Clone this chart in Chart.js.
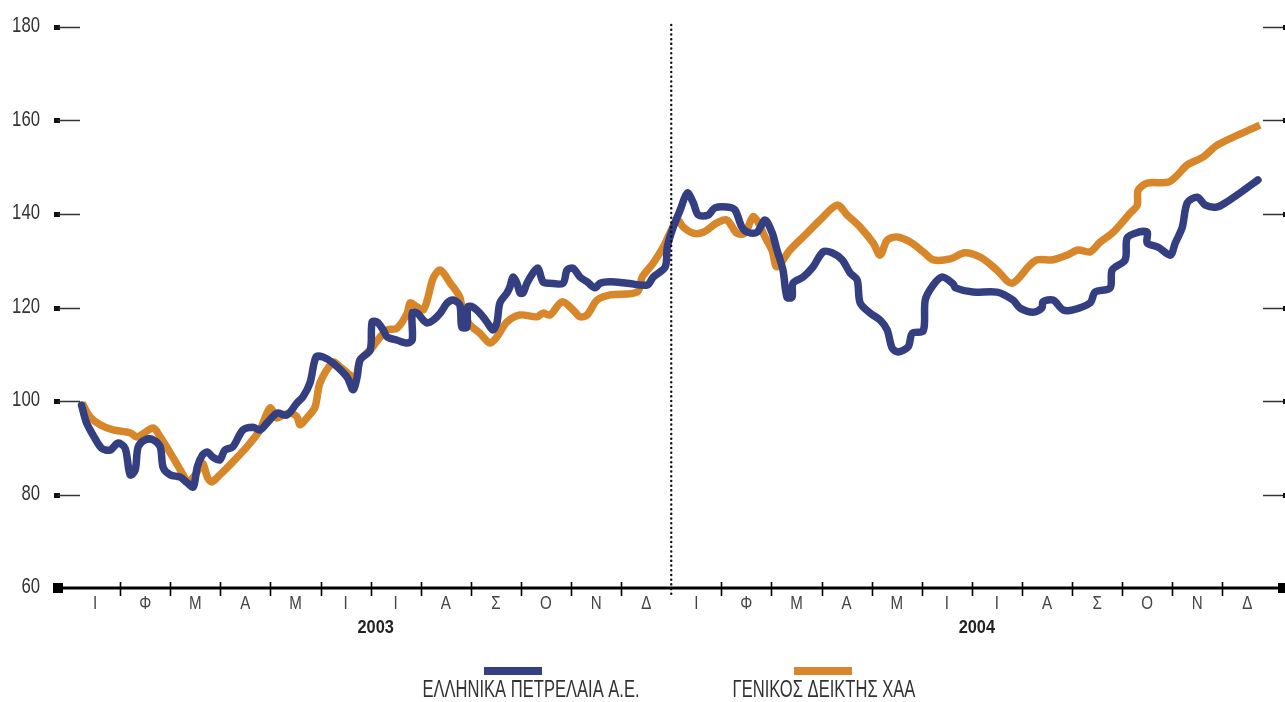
<!DOCTYPE html>
<html>
<head>
<meta charset="utf-8">
<script src="https://cdn.jsdelivr.net/npm/chart.js@4.4.1/dist/chart.umd.min.js"></script>
<style>
  body { margin: 0; background: #fff; }
  #wrap { width: 1285px; height: 702px; }
</style>
</head>
<body>
<div id="wrap"><canvas id="myChart" width="1285" height="702"></canvas></div>
<script>
// months of the two years, x values are month index (0 = start of Jan 2003)
const monthLabels = ['Ι','Φ','Μ','Α','Μ','Ι','Ι','Α','Σ','Ο','Ν','Δ'];
const yearLabels = ['2003', '2004'];
const yTicks = [60, 80, 100, 120, 140, 160, 180];
const seriesNames = ['ΕΛΛΗΝΙΚΑ ΠΕΤΡΕΛΑΙΑ Α.Ε.', 'ΓΕΝΙΚΟΣ ΔΕΙΚΤΗΣ ΧΑΑ'];

// Ελληνικά Πετρέλαια
const elpeX = [0.23,0.33,0.46,0.63,0.80,0.96,1.10,1.20,1.30,1.36,1.50,1.66,1.80,1.86,2.00,2.20,2.34,2.46,2.54,2.64,2.74,2.85,2.99,3.09,3.25,3.45,3.65,3.79,3.95,4.13,4.33,4.53,4.65,4.79,4.91,5.05,5.25,5.53,5.65,5.73,5.79,5.99,6.03,6.13,6.25,6.33,6.53,6.73,6.83,6.83,6.93,7.05,7.13,7.25,7.39,7.53,7.65,7.78,7.82,7.92,7.94,8.04,8.18,8.32,8.44,8.52,8.58,8.72,8.78,8.84,8.92,8.98,9.04,9.12,9.24,9.34,9.44,9.58,9.84,9.92,10.04,10.18,10.32,10.48,10.58,10.78,11.12,11.52,11.64,11.88,11.92,12.04,12.18,12.32,12.44,12.54,12.74,12.87,13.11,13.27,13.41,13.53,13.71,13.87,14.01,14.11,14.23,14.31,14.41,14.43,14.63,14.83,15.03,15.21,15.41,15.57,15.71,15.77,15.97,16.17,16.31,16.41,16.53,16.73,16.81,17.03,17.07,17.23,17.41,17.63,17.67,18.02,18.50,18.82,18.96,19.22,19.40,19.42,19.62,19.82,20.02,20.36,20.46,20.76,20.80,21.06,21.10,21.32,21.50,21.50,21.72,21.96,22.06,22.20,22.30,22.50,22.66,22.89,23.09,23.35,23.71];
const elpeY = [99.1,95.3,92.7,89.9,89.5,91.0,89.9,84.2,85.2,90.2,91.7,91.7,90.2,85.7,84.2,83.7,82.5,81.6,85.9,88.4,89.1,88.0,87.4,89.5,90.2,93.8,94.4,93.8,95.5,97.4,97.0,99.6,100.9,103.9,109.4,109.4,108.1,105.1,102.4,105.1,108.8,110.9,116.9,116.9,115.2,113.7,113.0,112.4,113.0,118.8,118.8,117.3,116.7,117.3,118.8,121.0,121.6,120.5,115.8,115.8,120.1,120.1,118.8,116.9,115.2,116.7,121.0,123.1,124.4,126.5,125.2,123.1,123.1,125.2,127.4,128.4,125.5,125.2,125.2,128.0,128.4,126.5,125.5,124.2,125.2,125.5,125.2,124.8,126.5,128.7,132.9,137.2,140.9,144.5,142.4,139.8,139.8,141.3,141.5,140.9,137.2,136.1,136.1,138.7,136.1,132.3,128.0,122.2,122.2,125.2,126.5,128.7,131.9,131.7,130.2,127.4,125.9,121.0,118.8,117.3,115.2,111.3,110.5,111.6,114.5,115.0,121.6,124.8,126.5,125.0,124.2,123.3,123.3,121.6,119.9,119.0,119.9,121.2,121.6,119.5,119.5,121.0,123.3,124.2,128.0,130.2,134.9,136.1,136.1,133.8,132.9,131.2,133.8,137.2,142.4,143.6,141.9,141.5,142.6,144.5,147.3];

// Γενικός Δείκτης ΧΑΑ
const gdX = [0.24,0.40,0.60,0.86,1.20,1.34,1.66,1.80,2.00,2.26,2.34,2.50,2.64,2.75,2.83,2.99,3.25,3.53,3.79,3.99,4.13,4.25,4.39,4.53,4.59,4.73,4.89,4.99,5.25,5.39,5.69,5.79,5.99,6.19,6.33,6.53,6.73,6.79,6.93,7.05,7.13,7.25,7.39,7.59,7.78,7.84,7.98,8.18,8.38,8.52,8.72,8.98,9.32,9.44,9.58,9.82,10.04,10.18,10.32,10.52,10.78,11.32,11.42,11.64,11.84,12.12,12.24,12.44,12.64,12.91,13.11,13.31,13.47,13.63,13.73,13.87,14.01,14.11,14.37,14.71,14.97,15.31,15.51,15.77,16.03,16.17,16.31,16.51,16.77,17.03,17.23,17.57,17.86,18.20,18.50,18.80,19.16,19.30,19.62,19.90,20.12,20.36,20.56,20.82,21.16,21.30,21.32,21.50,21.92,22.10,22.30,22.62,22.91,23.75];
const gdY = [99.6,96.6,94.9,93.8,93.2,92.3,94.2,92.3,88.9,84.2,82.7,84.2,86.7,83.5,82.7,84.2,87.0,90.2,93.8,98.5,96.4,97.0,97.4,96.6,94.9,96.4,98.7,103.9,108.3,107.3,105.1,108.8,110.9,113.7,115.2,115.6,118.8,121.0,120.1,119.5,121.6,126.3,128.0,125.2,122.2,118.8,116.3,114.5,112.4,113.7,116.9,118.4,118.0,118.8,118.4,121.2,119.5,118.0,118.4,121.6,122.7,123.3,126.5,129.5,132.9,138.7,137.2,135.9,136.1,138.1,138.7,135.9,135.9,139.4,138.3,135.1,132.3,128.7,132.3,135.9,138.7,141.9,139.8,137.2,133.8,131.2,134.4,135.1,134.0,131.9,130.2,130.4,131.7,130.6,128.0,125.2,129.1,130.2,130.2,131.2,132.3,131.9,134.0,136.1,140.2,141.9,145.1,146.6,146.8,148.3,150.5,152.2,154.8,159.0];

const colors = ['#333f80', '#d7872a'];
const FONT = "'Liberation Sans', Arial, sans-serif";

function toPoints(xs, ys) {
  return xs.map((x, i) => ({ x: x, y: ys[i] }));
}

// narrow text: squeeze Liberation Sans horizontally
function narrowText(ctx, text, x, y, font, sx, align) {
  ctx.save();
  ctx.font = font;
  ctx.textAlign = align;
  ctx.textBaseline = 'middle';
  ctx.translate(x, y);
  ctx.scale(sx, 1);
  ctx.fillText(text, 0, 0);
  ctx.restore();
}

const decor = {
  id: 'decor',
  beforeDatasetsDraw(chart) {
    const ctx = chart.ctx, xs = chart.scales.x, ys = chart.scales.y;
    const a = chart.chartArea;
    const yb = ys.getPixelForValue(60);
    ctx.save();
    // y tick marks left and right, labels
    ctx.strokeStyle = '#333';
    ctx.lineWidth = 1.5;
    yTicks.forEach(v => {
      const yv = ys.getPixelForValue(v);
      ctx.fillStyle = '#333';
      narrowText(ctx, String(v), a.left - 18, yv - 1, '22px ' + FONT, 0.76, 'right');
      if (v == 60) return;
      const y = Math.round(yv) + 0.5;
      ctx.fillStyle = '#111';
      ctx.fillRect(a.left - 4, y - 2.5, 6, 5);
      ctx.beginPath();
      ctx.moveTo(a.left, y); ctx.lineTo(a.left + 22, y);
      ctx.moveTo(a.right - 22, y); ctx.lineTo(a.right, y);
      ctx.stroke();
      ctx.fillRect(a.right - 2, y - 2.5, 2, 5);
    });
    // x axis line
    ctx.strokeStyle = '#000';
    ctx.lineWidth = 3;
    ctx.beginPath();
    ctx.moveTo(a.left, yb); ctx.lineTo(a.right, yb);
    ctx.stroke();
    ctx.fillStyle = '#000';
    ctx.fillRect(a.left - 5, yb - 5, 10, 10);
    ctx.fillRect(a.right - 7, yb - 5, 10, 10);
    // month ticks
    ctx.lineWidth = 1.6;
    ctx.beginPath();
    for (let m = 1; m < 24; m++) {
      if (m == 12) continue;
      const x = Math.round(xs.getPixelForValue(m)) + 0.5;
      ctx.moveTo(x, yb - 6); ctx.lineTo(x, yb + 8);
    }
    ctx.stroke();
    ctx.restore();
  },
  afterDatasetsDraw(chart) {
    const ctx = chart.ctx, xs = chart.scales.x, ys = chart.scales.y;
    const yb = ys.getPixelForValue(60);
    ctx.save();
    // dotted year separator
    const xd = xs.getPixelForValue(12);
    ctx.strokeStyle = '#111';
    ctx.lineWidth = 2.4;
    ctx.lineCap = 'round';
    ctx.setLineDash([0.1, 4.6]);
    ctx.beginPath();
    ctx.moveTo(xd, ys.getPixelForValue(180) - 2);
    ctx.lineTo(xd, yb + 10);
    ctx.stroke();
    ctx.setLineDash([]);
    // month letters
    ctx.fillStyle = '#444';
    for (let m = 0; m < 24; m++) {
      narrowText(ctx, monthLabels[m % 12], xs.getPixelForValue(m + 0.5), yb + 16, '18px ' + FONT, 0.84, 'center');
    }
    // years
    ctx.fillStyle = '#222';
    yearLabels.forEach((t, i) => {
      narrowText(ctx, t, xs.getPixelForValue(6 + 12 * i) + 5, yb + 40, 'bold 19px ' + FONT, 0.86, 'center');
    });
    // legend
    const legX = [513, 823];
    const legTextX = [531, 824];
    seriesNames.forEach((name, i) => {
      ctx.fillStyle = colors[i];
      ctx.fillRect(legX[i] - 29, 667, 58, 8);
      ctx.fillStyle = '#333';
      narrowText(ctx, name, legTextX[i], 691, '23px ' + FONT, 0.72, 'center');
    });
    ctx.restore();
  }
};

const config = {
  type: 'line',
  data: {
    datasets: [
      { label: seriesNames[0], data: toPoints(elpeX, elpeY), borderColor: colors[0], borderWidth: 7.5, pointRadius: 0, tension: 0.3, borderCapStyle: 'round', borderJoinStyle: 'round', fill: false },
      { label: seriesNames[1], data: toPoints(gdX, gdY), borderColor: colors[1], borderWidth: 7.5, pointRadius: 0, tension: 0.3, borderCapStyle: 'butt', borderJoinStyle: 'round', fill: false }
    ]
  },
  options: {
    responsive: false,
    devicePixelRatio: 1,
    animation: false,
    layout: { padding: { top: 27, bottom: 114, left: 0, right: 0 } },
    plugins: { legend: { display: false }, tooltip: { enabled: false } },
    scales: {
      x: { type: 'linear', min: -0.24, max: 24.25, display: false },
      y: {
        min: 60, max: 180,
        grid: { display: false, drawTicks: false },
        border: { display: false },
        ticks: { display: false },
        afterFit(scale) { scale.width = 58; }
      }
    }
  },
  plugins: [decor]
};

const myChart = new Chart(document.getElementById('myChart'), config);
</script>
</body>
</html>
